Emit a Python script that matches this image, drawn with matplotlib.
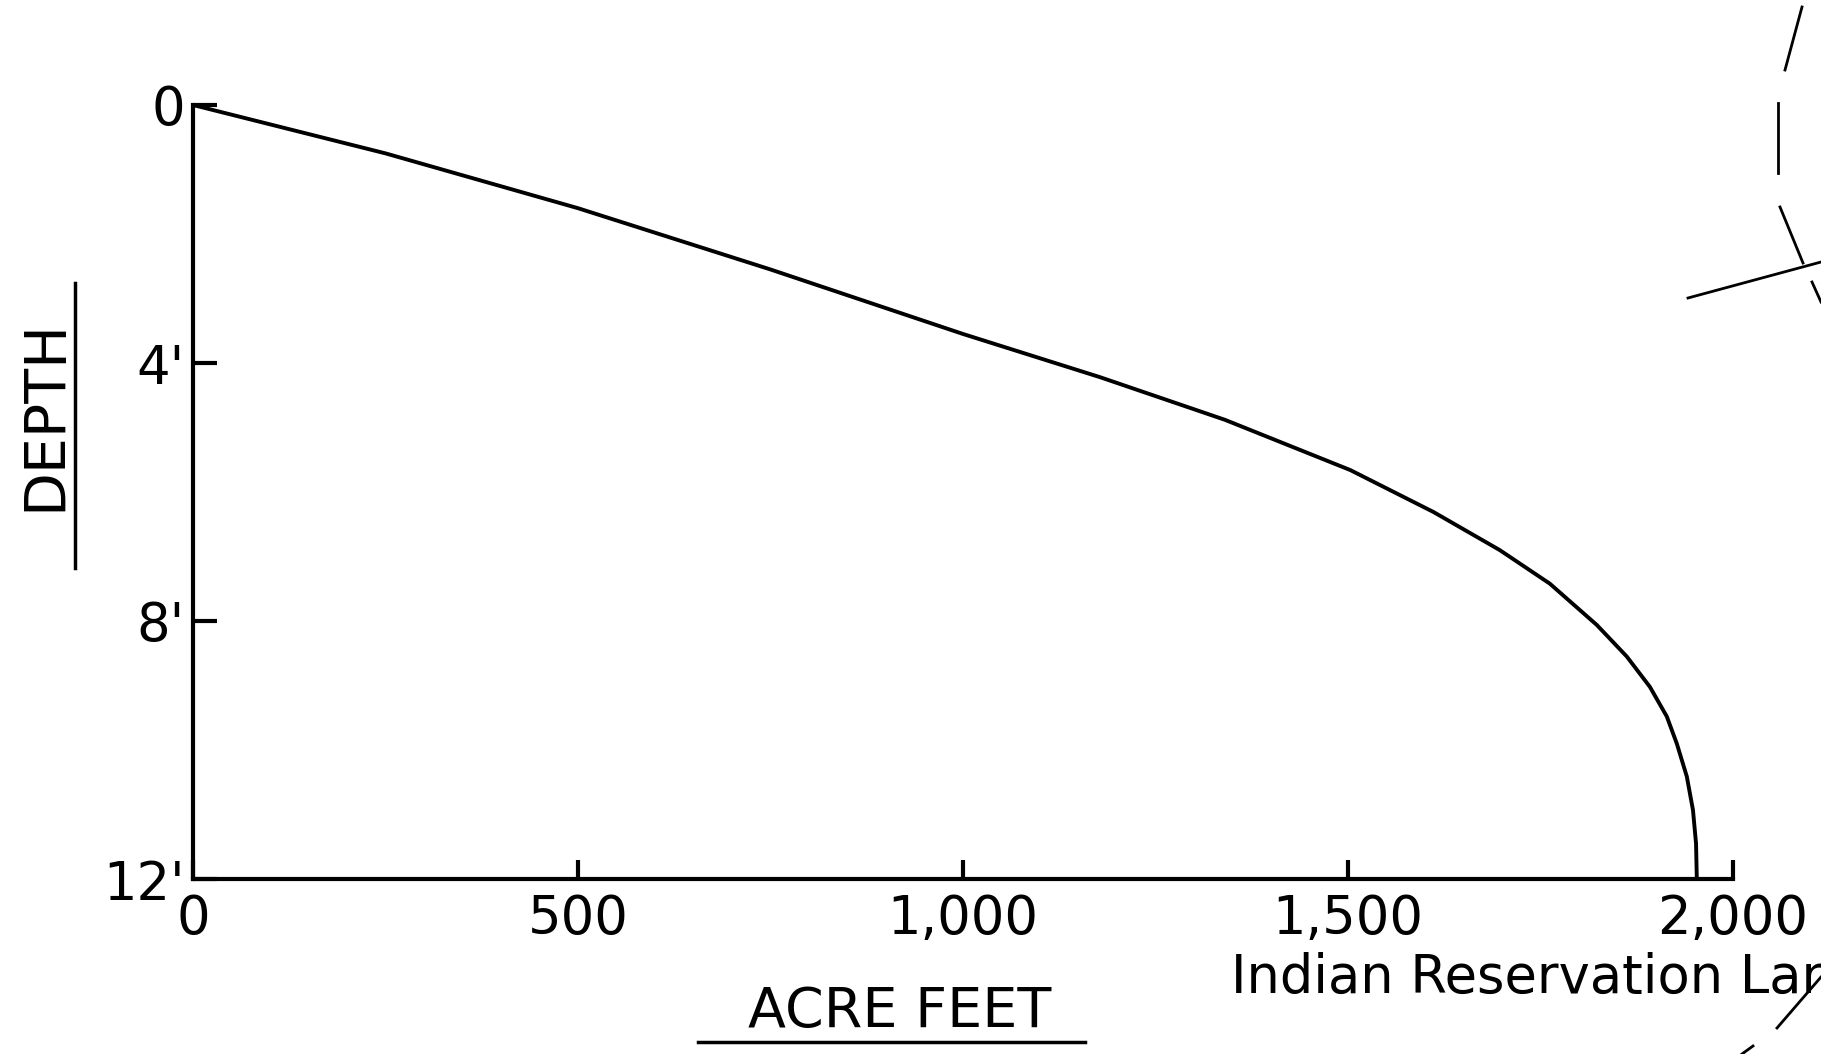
import matplotlib
matplotlib.use("Agg")
import matplotlib.pyplot as plt
from matplotlib.lines import Line2D

# storage curve
acre_feet = [0, 250, 500, 750, 1000, 1178, 1340, 1503, 1611, 1697, 1762, 1823,
             1862, 1892, 1914, 1927, 1940, 1948, 1952, 1953]
depth_ft = [0, 0.75, 1.60, 2.55, 3.55, 4.22, 4.88, 5.66, 6.31, 6.90, 7.42, 8.06,
            8.55, 9.02, 9.48, 9.90, 10.41, 10.93, 11.45, 12.0]

x_ticks = [0, 500, 1000, 1500, 2000]
x_labels = ["0", "500", "1,000", "1,500", "2,000"]
y_ticks = [0, 4, 8, 12]
y_labels = ["0", "4'", "8'", "12'"]

W, H = 1821, 1054
plt.rcParams['font.family'] = ['DejaVu Sans']
fig = plt.figure(figsize=(W / 100, H / 100), dpi=100)

def fx(px):
    return px / W

def fy(py):
    return 1 - py / H

ax = fig.add_axes([fx(193), fy(879), fx(1733 - 193), (879 - 105) / H])
ax.plot(acre_feet, depth_ft, color="black", lw=2.8,
        solid_joinstyle="round", solid_capstyle="butt")

ax.set_xlim(0, 2000)
ax.set_ylim(12, 0)
for s in ["top", "right"]:
    ax.spines[s].set_visible(False)
for s in ["left", "bottom"]:
    ax.spines[s].set_linewidth(3)

ax.set_xticks(x_ticks)
ax.set_xticklabels(x_labels)
ax.set_yticks(y_ticks)
ax.set_yticklabels(y_labels)
ax.tick_params(axis="x", direction="in", length=14, width=3, pad=10, labelsize=38)
ax.tick_params(axis="y", direction="in", length=17, width=3, pad=6, labelsize=38)

# axis titles, hand-lettered style with underlines
fig.text(fx(46), fy(415), "DEPTH", rotation=90, ha="center", va="center", fontsize=41)
fig.add_artist(Line2D([fx(75), fx(75)], [fy(283), fy(568)], color="black", lw=2.5))
fig.text(fx(900), fy(1012), "ACRE FEET", ha="center", va="center", fontsize=40)
fig.add_artist(Line2D([fx(698), fx(1085)], [fy(1042), fy(1042)], color="black", lw=2.5))
# runs off the right edge, as on the scan
fig.text(fx(1231), fy(993), "Indian Reservation Land", ha="left", va="baseline", fontsize=38)

# fragments of the neighbouring map on the scan
frag = [
    [(1802, 7), (1785, 70)],
    [(1778, 103), (1778, 173)],
    [(1780, 207), (1803, 263)],
    [(1688, 298), (1821, 262)],
    [(1812, 282), (1821, 302)],
    [(1821, 977), (1777, 1028)],
    [(1753, 1046), (1742, 1054)],
]
for (x0, y0), (x1, y1) in frag:
    fig.add_artist(Line2D([fx(x0), fx(x1)], [fy(y0), fy(y1)], color="black", lw=2))

fig.savefig("out.png", dpi=100, facecolor="white")
